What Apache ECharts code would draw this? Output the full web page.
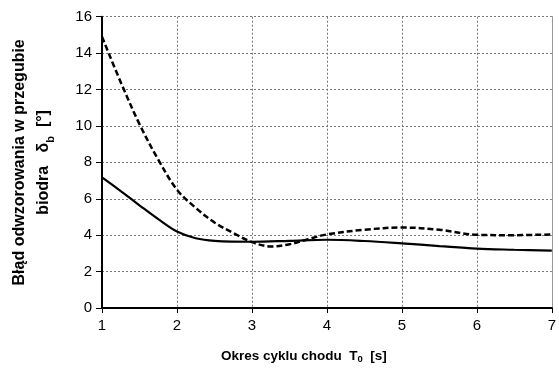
<!DOCTYPE html>
<html>
<head>
<meta charset="utf-8">
<script src="https://cdn.jsdelivr.net/npm/echarts@6/dist/echarts.min.js"></script>
<style>html,body{margin:0;padding:0;background:#fff}#c{width:559px;height:369px}</style>
</head>
<body>
<div id="c"></div>
<script>
const xDashed = [1, 1.25, 1.5, 1.75, 2, 2.25, 2.5, 2.75, 3, 3.25, 3.5, 3.75, 4, 4.5, 5, 5.5, 6, 6.5, 7];
const yDashed = [14.9, 12.4, 10.1, 8.15, 6.5, 5.5, 4.7, 4.12, 3.62, 3.38, 3.5, 3.78, 4.04, 4.3, 4.42, 4.3, 4.02, 4.0, 4.04];
const xSolid = [1, 1.25, 1.5, 1.75, 2, 2.25, 2.5, 3, 3.5, 4, 4.5, 5, 5.5, 6, 6.5, 7];
const ySolid = [7.18, 6.42, 5.64, 4.88, 4.2, 3.83, 3.69, 3.64, 3.69, 3.75, 3.68, 3.55, 3.4, 3.26, 3.2, 3.15];
const xTicks = [1, 2, 3, 4, 5, 6, 7];
const yTicks = [0, 2, 4, 6, 8, 10, 12, 14, 16];

const FONT = '"Liberation Sans", Arial, sans-serif';
const chart = echarts.init(document.getElementById('c'), null, {renderer: 'canvas'});
const pair = (xs, ys) => xs.map((x, i) => [x, ys[i]]);
chart.setOption({
  animation: false,
  backgroundColor: '#fff',
  textStyle: {fontFamily: FONT},
  grid: {left: 96.7, right: 4.7, top: 16.7, bottom: 59, containLabel: false},
  xAxis: {
    type: 'value', min: xTicks[0], max: xTicks[xTicks.length - 1], interval: 1,
    name: '{b|Okres cyklu chodu  T}{s|0}{b|  [s]}',
    nameLocation: 'middle', nameGap: 40,
    nameTextStyle: {
      padding: [0, 46, 0, 0],
      rich: {
        b: {fontFamily: FONT, fontSize: 13.5, fontWeight: 'bold', color: '#000'},
        s: {fontFamily: FONT, fontSize: 9.5, fontWeight: 'bold', color: '#000', verticalAlign: 'bottom', padding: [6, 0, 0, 0]}
      }
    },
    axisLine: {lineStyle: {color: '#000', width: 2}},
    axisTick: {show: true, inside: false, length: 5, lineStyle: {color: '#000', width: 1}},
    axisLabel: {fontFamily: FONT, fontSize: 15, color: '#000', margin: 10},
    splitLine: {show: true, lineStyle: {color: '#777', type: [2, 2], width: 1}}
  },
  yAxis: [{
    type: 'value', min: yTicks[0], max: yTicks[yTicks.length - 1], interval: 2,
    name: '{b|Błąd odwzorowania w przegubie}\n{b|biodra   δ}{s|b}{b|  [°]}',
    nameLocation: 'middle', nameGap: 46, nameRotate: 90,
    nameTextStyle: {
      lineHeight: 24,
      rich: {
        b: {fontFamily: FONT, fontSize: 16, fontWeight: 'bold', color: '#000', lineHeight: 24},
        s: {fontFamily: FONT, fontSize: 11, fontWeight: 'bold', color: '#000', verticalAlign: 'bottom', lineHeight: 24, padding: [7, 0, 0, 0]}
      }
    },
    axisLine: {show: true, lineStyle: {color: '#000', width: 2}},
    axisTick: {show: true, inside: false, length: 6, lineStyle: {color: '#000', width: 1}},
    axisLabel: {fontFamily: FONT, fontSize: 15, color: '#000', margin: 10},
    splitLine: {show: true, lineStyle: {color: '#777', type: [2, 2], width: 1}}
  }, {
    type: 'value', position: 'right', min: 0, max: 16, interval: 2,
    axisLine: {show: true, lineStyle: {color: '#999', width: 1}},
    axisTick: {show: false}, axisLabel: {show: false}, splitLine: {show: false}
  }],
  series: [{
    type: 'line', data: pair(xDashed, yDashed), smooth: 0.35, symbol: 'none',
    lineStyle: {color: '#000', width: 2.5, type: [6, 3]}
  }, {
    type: 'line', data: pair(xSolid, ySolid), smooth: 0.35, symbol: 'none',
    lineStyle: {color: '#000', width: 2.2, type: 'solid'}
  }]
});
</script>
</body>
</html>
